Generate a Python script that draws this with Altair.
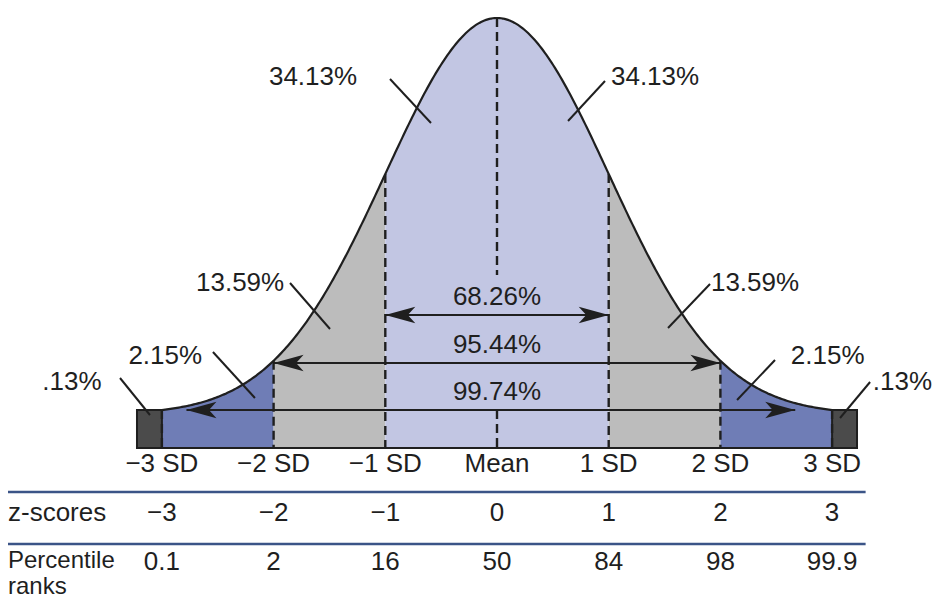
import numpy as np
import pandas as pd
import altair as alt

# ---------------- data ----------------
sd_z = [-3, -2, -1, 0, 1, 2, 3]
sd_labels = ["\u22123 SD", "\u22122 SD", "\u22121 SD", "Mean", "1 SD", "2 SD", "3 SD"]
z_scores = ["\u22123", "\u22122", "\u22121", "0", "1", "2", "3"]
percentile_ranks = ["0.1", "2", "16", "50", "84", "98", "99.9"]

region_pct = ["34.13%", "34.13%", "13.59%", "13.59%", "2.15%", "2.15%", ".13%", ".13%"]
span_pct = ["68.26%", "95.44%", "99.74%"]
span_from = [-1, -2, -2.78]
span_to = [1, 2, 2.67]

# ---------------- layout (screen-like units) ----------------
BASE, HEIGHT = 414.4, 396.4   # curve geometry
BAND_BOTTOM, BAND_TOP = 448, 410
EDGE = 3.223
PX_PER_SD = 111.7
W, H = 926, 592
XMIN = (8 - 497) / PX_PER_SD
XMAX = XMIN + W / PX_PER_SD
FONT = "Liberation Sans"
FS = 26
INK = "#1f1f1f"


def curve_y(z):
    return BASE - HEIGHT * np.exp(-np.asarray(z, dtype=float) ** 2 / 2)


xs = alt.Scale(domain=[XMIN, XMAX])
ys = alt.Scale(domain=[8, 8 + H], reverse=True)
X = lambda f: alt.X(f, type="quantitative", scale=xs, axis=None)
Y = lambda f: alt.Y(f, type="quantitative", scale=ys, axis=None)

# filled regions
segs = [(-3, -2, "tail"), (-2, -1, "mid"), (-1, 1, "core"), (1, 2, "mid"), (2, 3, "tail")]
rows = []
for i, (a, b, kind) in enumerate(segs):
    for z in np.linspace(a, b, 60):
        rows.append({"z": z, "y": float(curve_y(z)), "y0": BAND_BOTTOM, "kind": kind, "sid": i})
area_df = pd.DataFrame(rows)
area = alt.Chart(area_df).mark_area(opacity=1).encode(
    x=X("z"), y=alt.Y("y:Q", scale=ys, axis=None, stack=None), y2="y0:Q",
    color=alt.Color("kind:N", scale=alt.Scale(domain=["core", "mid", "tail"],
                                              range=["#c2c6e3", "#bcbcbc", "#6f7db6"]), legend=None),
    detail="sid:N",
)

# dark end boxes
ends_df = pd.DataFrame({"a": [-EDGE, 3], "b": [-3, EDGE], "t": [BAND_TOP] * 2, "bt": [BAND_BOTTOM] * 2})
ends = alt.Chart(ends_df).mark_rect(fill="#4b4b4b", stroke=INK, strokeWidth=2).encode(
    x=X("a"), x2="b:Q", y=Y("t"), y2="bt:Q")

# curve outline
cz = np.linspace(-3, 3, 400)
curve_df = pd.DataFrame({"z": cz, "y": curve_y(cz)})
curve = alt.Chart(curve_df).mark_line(color=INK, strokeWidth=2.2).encode(x=X("z"), y=Y("y"))

# bottom line of band
bottom_df = pd.DataFrame({"a": [-EDGE], "b": [EDGE], "y": [BAND_BOTTOM]})
bottom = alt.Chart(bottom_df).mark_rule(color=INK, strokeWidth=2.2).encode(x=X("a"), x2="b:Q", y=Y("y"))

# dashed SD lines
dz = [z for z in sd_z if z != 0]
dash_df = pd.DataFrame({"z": dz + [0, 0],
                        "t": [float(curve_y(z)) for z in dz] + [18, BAND_TOP],
                        "b": [BAND_BOTTOM] * len(dz) + [275, BAND_BOTTOM]})
dashes = alt.Chart(dash_df).mark_rule(color=INK, strokeWidth=2.4, strokeDash=[9, 5]).encode(
    x=X("z"), y=Y("t"), y2="b:Q")

# span arrows
span_y = [315, 363, 410]
span_df = pd.DataFrame({"a": span_from, "b": span_to, "y": span_y, "label": span_pct,
                        "ty": [297, 345, 392], "mid": [0, 0, 0]})
shafts = alt.Chart(span_df).mark_rule(color=INK, strokeWidth=2.2).encode(x=X("a"), x2="b:Q", y=Y("y"))
LEFT_HEAD = "M0,0 L2,-0.55 L1.5,0 L2,0.55 Z"
RIGHT_HEAD = "M0,0 L-2,-0.55 L-1.5,0 L-2,0.55 Z"
head_l = alt.Chart(span_df).mark_point(shape=LEFT_HEAD, filled=True, opacity=1, color=INK,
                                       size=900, strokeWidth=0).encode(x=X("a"), y=Y("y"))
head_r = alt.Chart(span_df).mark_point(shape=RIGHT_HEAD, filled=True, opacity=1, color=INK,
                                       size=900, strokeWidth=0).encode(x=X("b"), y=Y("y"))
span_text = alt.Chart(span_df).mark_text(font=FONT, fontSize=FS, color=INK, baseline="middle").encode(
    x=X("mid"), y=Y("ty"), text="label:N")

# region labels and leader lines
lab_df = pd.DataFrame({
    "label": region_pct,
    "x": [-1.647, 1.415, -2.30, 2.31, -2.97, 2.96, -3.805, 3.63],
    "y": [77, 77, 283, 283, 356, 356, 382, 382],
    "x1": [-0.958, 0.967, -1.853, 1.907, -2.543, 2.489, -3.375, 3.34],
    "y1": [79, 81, 283, 284, 352, 360, 378, 382],
    "x2": [-0.591, 0.636, -1.495, 1.531, -2.167, 2.149, -3.107, 3.071],
    "y2": [123, 121, 329, 328, 398, 400, 415, 418],
})
lab_text = alt.Chart(lab_df).mark_text(font=FONT, fontSize=FS, color=INK, baseline="middle").encode(
    x=X("x"), y=Y("y"), text="label:N")
leaders = alt.Chart(lab_df).mark_rule(color=INK, strokeWidth=2).encode(
    x=X("x1"), y=Y("y1"), x2="x2:Q", y2="y2:Q")

# bottom table
tbl_df = pd.DataFrame({"z": sd_z, "sd": sd_labels, "zs": z_scores, "pr": percentile_ranks})
sd_text = alt.Chart(tbl_df).mark_text(font=FONT, fontSize=FS, color=INK, baseline="middle").encode(
    x=X("z"), y=alt.value(464 - 8), text="sd:N")
zs_text = alt.Chart(tbl_df).mark_text(font=FONT, fontSize=FS, color=INK, baseline="middle").encode(
    x=X("z"), y=alt.value(513 - 8), text="zs:N")
pr_text = alt.Chart(tbl_df).mark_text(font=FONT, fontSize=FS, color=INK, baseline="middle").encode(
    x=X("z"), y=alt.value(562 - 8), text="pr:N")

row_df = pd.DataFrame({"x": [XMIN], "y": [513], "label": ["z-scores"]})
row_text = alt.Chart(row_df).mark_text(font=FONT, fontSize=FS, color=INK, baseline="middle",
                                       align="left").encode(x=X("x"), y=Y("y"), text="label:N")
pr_row_df = pd.DataFrame({"x": [XMIN], "y": [549], "label": ["Percentile\nranks"]})
pr_row_text = alt.Chart(pr_row_df).mark_text(font=FONT, fontSize=24, color=INK, baseline="top",
                                             align="left", lineBreak="\n", lineHeight=26).encode(
    x=X("x"), y=Y("y"), text="label:N")

sep_df = pd.DataFrame({"a": [XMIN, XMIN], "b": [3.30, 3.30], "y": [492, 544]})
seps = alt.Chart(sep_df).mark_rule(color="#3b5487", strokeWidth=2.6).encode(x=X("a"), x2="b:Q", y=Y("y"))

chart = alt.layer(
    area, ends, curve, bottom, dashes, shafts, head_l, head_r, span_text,
    leaders, lab_text, seps, sd_text, zs_text, pr_text, row_text, pr_row_text,
).properties(
    width=W, height=H, autosize=alt.AutoSizeParams(type="none"), padding=0, background="white"
).configure_view(stroke=None)

chart.save("out.html", embed_options={"renderer": "svg", "actions": False})
